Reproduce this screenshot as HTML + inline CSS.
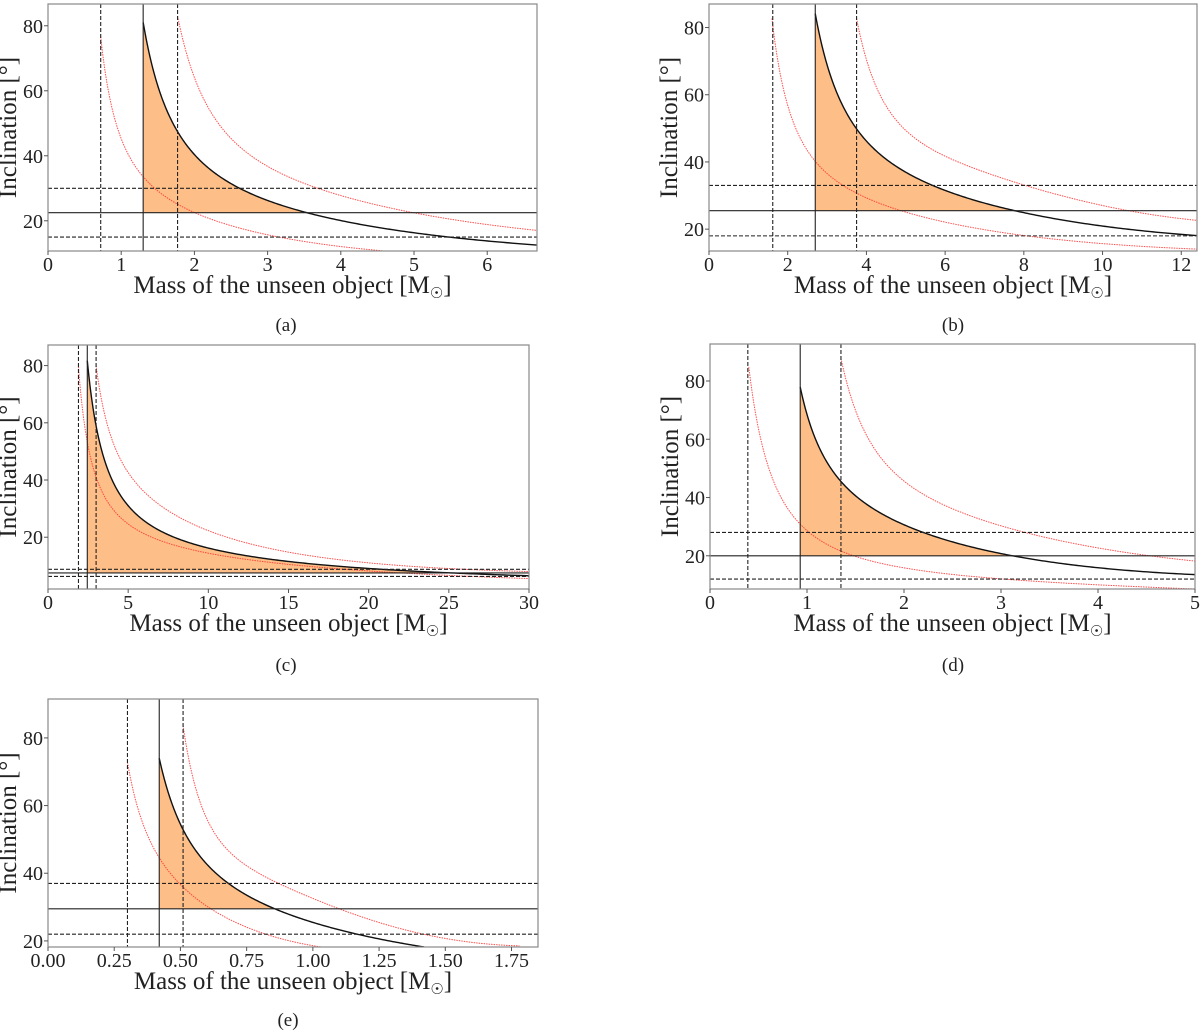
<!DOCTYPE html>
<html><head><meta charset="utf-8"><style>
body{margin:0;background:#fff;}
svg{display:block;}
text{font-family:"Liberation Serif",serif;fill:#222;}
</style></head><body>
<svg id="fig" width="1200" height="1035" viewBox="0 0 1200 1035"></svg>
<script>
// Panel (a)
const aBlackM=[1.3,1.4,1.5,1.77,2,2.6,3,3.5,4,5,6,6.7];
const aBlackI=[81,70,62,47,40.5,30,26.5,22.7,20,16.3,13.8,12.5];
const aLowM=[0.72,0.8,1,1.3,1.77,2,3,4,5,6];
const aLowI=[77,60,46,34,25,22.5,15.5,12.2,10,8.7];
const aUpM=[1.77,2,2.4,2.7,3,3.6,4,5,6,6.7];
const aUpI=[83,64,48,41,37,30.5,27.8,22.5,18.8,17];
const aVert=[0.72,1.3,1.77], aHoriz=[15,22.5,30];
const aXTicks=[0,1,2,3,4,5,6];
// Panel (b)
const bBlackM=[2.7,3,3.5,3.75,4,5,5.7,6,7,7.75,9,10,11,12.5];
const bBlackI=[84,70,55,49,46,37,33,31.5,28,25.5,22.5,21,19.5,18];
const bLowM=[1.6,1.8,2,2.7,3,3.5,3.75,4.8,6,8,10,12.5];
const bLowI=[83,65,56,41,37,32.5,30.5,25.5,22,18,16,14];
const bUpM=[3.75,4,4.5,5,6,7,8,9,10.7,12.5];
const bUpI=[83,68,57,50,42,36.5,33,30,25.5,22.5];
const bVert=[1.62,2.7,3.75], bHoriz=[18,25.5,33];
const bXTicks=[0,2,4,6,8,10,12];
// Panel (c)
const cBlackM=[2.45,3,3.5,4,5,6,8,10,15,20,25,30];
const cBlackI=[82,57,47,40,32,26,19.5,16,11.5,9,7.8,6.5];
const cLowM=[1.9,2.2,2.5,3,4,5,7,10,15,20,25,30];
const cLowI=[80,62,50,40,31,25.5,19,14,10,8.5,7,5.5];
const cUpM=[3,3.5,4,5,6,8,10,15,20,25,30];
const cUpI=[80,63,54,43,36,27.5,22,15,11,9,8];
const cVert=[1.9,2.45,3.0], cHoriz=[6.3,7.5,8.8];
const cXTicks=[0,5,10,15,20,25,30];
// Panel (d)
const dBlackM=[0.93,1,1.2,1.35,1.5,2,2.5,3.05,3.5,4,4.5,5];
const dBlackI=[78,68,53,45,40.5,31,25,20,17.8,16,14.8,13.5];
const dLowM=[0.4,0.5,0.6,0.8,0.93,1.1,1.35,1.5,2,3,4,5];
const dLowI=[85,62,50,37,32,26,21,19.5,16,12.2,10,8.6];
const dUpM=[1.35,1.5,1.75,2,2.5,3,3.5,4,4.5,5];
const dUpI=[88,68,55,46,36,30,26,23,20,18.2];
const dVert=[0.39,0.93,1.35], dHoriz=[12,20,28];
const dXTicks=[0,1,2,3,4,5];
// Panel (e)
const eBlackM=[0.42,0.45,0.5,0.6,0.7,0.85,1,1.17,1.42];
const eBlackI=[74,65,54,43,36,29.5,25.5,22,18.2];
const eLowM=[0.3,0.33,0.4,0.42,0.5,0.6,0.75,0.85,1.03];
const eLowI=[73,60,48,45,36.5,30,24,21.5,18.2];
const eUpM=[0.51,0.55,0.6,0.75,0.85,1.07,1.25,1.5,1.78];
const eUpI=[84,65,55,44,38,29.5,25,21.5,18.5];
const eVert=[0.30,0.42,0.51], eHoriz=[22,29.5,37];
const eXTicks=[0,0.25,0.5,0.75,1,1.25,1.5,1.75];
const yTicks=[20,40,60,80];

const NS='http://www.w3.org/2000/svg';
const svg=document.getElementById('fig');
function mk(tag,attrs,parent){const e=document.createElementNS(NS,tag);for(const k in attrs)e.setAttribute(k,attrs[k]);(parent||svg).appendChild(e);return e;}
// least-squares polynomial (degree 4) smoothing in log-log space
function dense(ms,is){
  const n=ms.length, lx=ms.map(Math.log), ly=is.map(Math.log);
  const a=lx[0], b=lx[n-1];
  const u=lx.map(v=>(v-a)/(b-a)*2-1);
  const D=Math.min(4,n-1), K=D+1;
  const A=[];for(let r=0;r<K;r++){A.push(new Array(K+1).fill(0));}
  for(let k=0;k<n;k++){
    // weight endpoints more so curves start/end where read
    const w=(k==0||k==n-1)?6:1;
    for(let r=0;r<K;r++){for(let c=0;c<K;c++)A[r][c]+=w*Math.pow(u[k],r+c);A[r][K]+=w*Math.pow(u[k],r)*ly[k];}
  }
  for(let i=0;i<K;i++){let p=i;for(let r=i+1;r<K;r++)if(Math.abs(A[r][i])>Math.abs(A[p][i]))p=r;[A[i],A[p]]=[A[p],A[i]];
    for(let r=0;r<K;r++){if(r==i)continue;const f=A[r][i]/A[i][i];for(let c=i;c<=K;c++)A[r][c]-=f*A[i][c];}}
  const co=A.map((row,i)=>row[K]/row[i]);
  const out=[];const S=240;
  for(let s=0;s<=S;s++){
    const uu=-1+2*s/S;let y=0;for(let r=0;r<K;r++)y+=co[r]*Math.pow(uu,r);
    out.push([Math.exp(a+(uu+1)/2*(b-a)),Math.exp(y)]);
  }
  return out;
}
function pathOf(pts){return 'M'+pts.map(p=>p[0].toFixed(2)+','+p[1].toFixed(2)).join('L');}
function panel(id,L,R,T,B,x0,x1,y0,y1,xt,fmt,bm,bi,lm,li,um,ui,vert,horiz,cap,capX,capY){
  const g=mk('g',{});
  
  
  const X=v=>L+(v-x0)/(x1-x0)*(R-L);
  const Y=v=>B-(v-y0)/(y1-y0)*(B-T);
  const defs=mk('defs',{},g);
  const cp=mk('clipPath',{id:'clip'+id},defs);
  mk('rect',{x:L,y:T,width:R-L,height:B-T},cp);
  const cf=mk('clipPath',{id:'fillclip'+id},defs);
  mk('rect',{x:X(vert[1]),y:T,width:R-X(vert[1]),height:Y(horiz[1])-T},cf);
  const bp=dense(bm,bi).map(p=>[X(p[0]),Y(p[1])]);
  const f=mk('path',{d:pathOf(bp)+'L'+bp[bp.length-1][0]+','+Y(horiz[1])+'L'+bp[0][0]+','+Y(horiz[1])+'Z',fill:'#fdbf87',stroke:'none','clip-path':'url(#fillclip'+id+')'},g);
  
  
  const cg=mk('g',{'clip-path':'url(#clip'+id+')'},g);
  [[lm,li,'red-curve-lower'],[um,ui,'red-curve-upper']].forEach(([ms,is,n])=>{
    const p=mk('path',{d:pathOf(dense(ms,is).map(q=>[X(q[0]),Y(q[1])])),fill:'none',stroke:'#ff3030','stroke-width':1,'stroke-dasharray':'1.5,1','stroke-opacity':0.85},cg);
    
    
  });
  const bc=mk('path',{d:pathOf(bp),fill:'none',stroke:'#111','stroke-width':1.4},cg);
  
  
  vert.forEach((v,i)=>{
    const l=mk('line',{x1:X(v),x2:X(v),y1:T,y2:B,stroke:'#222','stroke-width':1.1,'stroke-dasharray':i==1?'':'4,2'},cg);
    
    
  });
  horiz.forEach((v,i)=>{
    const l=mk('line',{x1:L,x2:R,y1:Y(v),y2:Y(v),stroke:'#222','stroke-width':1.1,'stroke-dasharray':i==1?'':'4,2'},cg);
    
    
  });
  const fr=mk('rect',{x:L,y:T,width:R-L,height:B-T,fill:'none',stroke:'#888','stroke-width':1.2},g);
  
  
  xt.forEach(v=>{
    mk('line',{x1:X(v),x2:X(v),y1:B,y2:B+4,stroke:'#555'},g);
    const t=mk('text',{x:X(v),y:B+20,'font-size':20,'text-anchor':'middle'},g);
    t.textContent=fmt(v);
    
    
  });
  yTicks.forEach(v=>{
    if(v<y0||v>y1)return;
    mk('line',{x1:L-4,x2:L,y1:Y(v),y2:Y(v),stroke:'#555'},g);
    const t=mk('text',{x:L-5,y:Y(v)+7,'font-size':20,'text-anchor':'end'},g);
    t.textContent=v;
    
    
  });
  const xl=mk('text',{x:(L+R)/2,y:B+42,'font-size':25,'text-anchor':'middle'},g);
  xl.innerHTML='Mass of the unseen object [M<tspan font-size="15" dy="5">☉</tspan><tspan dy="-5">]</tspan>';
  
  
  const yx=L-32, yy=(T+B)/2;
  const yl=mk('text',{x:yx,y:yy,'font-size':25,'text-anchor':'middle',transform:'rotate(-90 '+yx+' '+yy+')'},g);
  yl.textContent='Inclination [°]';
  
  
  const c=mk('text',{x:capX,y:capY,'font-size':19,'text-anchor':'middle'},g);
  c.textContent=cap;
  
  
}
const f0=v=>String(v), f2=v=>v.toFixed(2);
panel('a',48,537,4,251,0,6.68,10.7,86.7,aXTicks,f0,aBlackM,aBlackI,aLowM,aLowI,aUpM,aUpI,aVert,aHoriz,'(a)',286,331);
panel('b',709,1197,4,251,0,12.4,13.5,87,bXTicks,f0,bBlackM,bBlackI,bLowM,bLowI,bUpM,bUpI,bVert,bHoriz,'(b)',953,331);
panel('c',48,529,345,589,0,30,1.9,87.2,cXTicks,f0,cBlackM,cBlackI,cLowM,cLowI,cUpM,cUpI,cVert,cHoriz,'(c)',286,671);
panel('d',710,1195,344,589,0,5,8.6,92.7,dXTicks,f0,dBlackM,dBlackI,dLowM,dLowI,dUpM,dUpI,dVert,dHoriz,'(d)',953,671);
panel('e',48,538,699,947,0,1.85,18.2,91.5,eXTicks,f2,eBlackM,eBlackI,eLowM,eLowI,eUpM,eUpI,eVert,eHoriz,'(e)',288,1026);
</script>
</body></html>
